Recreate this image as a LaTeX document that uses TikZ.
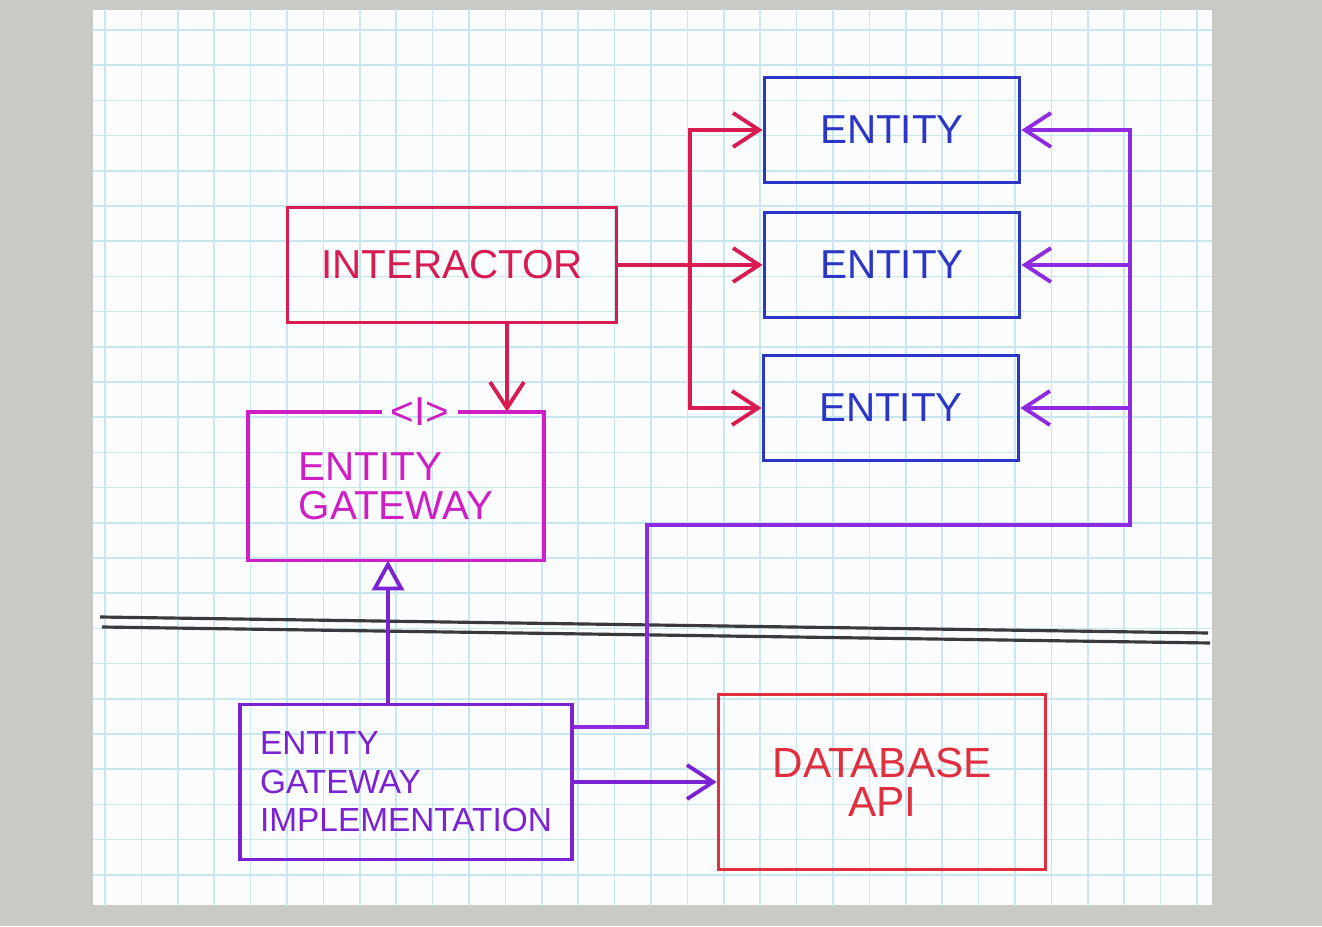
\documentclass[tikz,border=0pt]{standalone}
\usepackage{fontspec}
\setmainfont{Liberation Sans}
\usetikzlibrary{arrows.meta,calc,positioning}
\definecolor{Desk}{HTML}{C9C9C5}
\definecolor{Paper}{HTML}{FBFCFD}
\definecolor{Grid}{HTML}{C8E7EE}
\definecolor{Crimson}{HTML}{D81C52}
\definecolor{Ink}{HTML}{2B36C6}
\definecolor{Magenta}{HTML}{CF1FC4}
\definecolor{Violet}{HTML}{7B23D3}
\definecolor{Plum}{HTML}{8E2BE0}
\definecolor{Brick}{HTML}{E0303F}
\definecolor{Pencil}{HTML}{3A3A3E}

\begin{document}
\begin{tikzpicture}[font=\fontsize{11.5}{11}\selectfont,>={Straight Barb[length=2.6mm,width=3.4mm]},line width=1.1pt,
    entitybox/.style={draw=Ink,text=Ink,minimum width=2.55cm,minimum height=1.05cm},
    redwire/.style={Crimson},
    retwire/.style={Plum}]
  % paper on the desk
  \fill[Desk] (0,0) rectangle (13.22,9.26);
  \fill[Paper] (0.93,0.21) rectangle (12.12,9.16);
  \begin{scope}
    \clip (0.93,0.21) rectangle (12.12,9.16);
    \draw[Grid,line width=.5pt,xstep=.364,ystep=.352,shift={(1.05,8.96)}] (-0.2,-8.9) grid (11.2,0.3);
  \end{scope}
  % boundary
  \draw[Pencil,line width=.9pt] (1.00,3.09) -- (12.08,2.93);
  \draw[Pencil,line width=.9pt] (1.02,2.99) -- (12.10,2.83);

  \node[draw=Crimson,text=Crimson,minimum width=3.29cm,minimum height=1.15cm] (act) at (4.52,6.61) {INTERACTOR};
  \node[entitybox] (ent1) at (8.92,7.96) {ENTITY};
  \node[entitybox] (ent2) at (8.92,6.61) {ENTITY};
  \node[entitybox] (ent3) at (8.91,5.18) {ENTITY};
  \node[text=Magenta,align=left,minimum width=2.92cm,minimum height=1.45cm] (gw) at (3.96,4.40) {ENTITY\\GATEWAY};
  \node[text=Magenta,inner sep=2pt] (iface) at ([xshift=2.4mm]gw.north) {<I>};
  \draw[Magenta] (iface.west) -| (gw.south west) -| (gw.north east) -- (iface.east);
  \node[draw=Violet,text=Violet,align=left,font=\fontsize{9.5}{11}\selectfont,minimum width=3.32cm,minimum height=1.55cm] (impl) at (4.06,1.44) {ENTITY\\GATEWAY\\IMPLEMENTATION};
  \node[draw=Brick,text=Brick,align=center,font=\fontsize{12}{11}\selectfont,minimum width=3.27cm,minimum height=1.75cm] (db) at (8.82,1.44) {DATABASE\\API};

  \coordinate (fork) at (6.90,6.61);
  \coordinate (drop) at (5.07,0);
  \coordinate (lift) at (3.88,0);
  \coordinate (bend) at (6.47,4.01);
  \coordinate (ret) at (11.30,4.01);

  \draw[redwire,->] (act) -- (ent2);
  \draw[redwire,->] (fork) |- (ent1);
  \draw[redwire,->] (fork) |- (ent3);
  \draw[redwire,->] (act.south -| drop) -- (gw.north -| drop);
  \draw[Violet,-{Triangle[open,length=3mm,width=3.2mm]}] (impl.north -| lift) -- (gw.south -| lift);
  \draw[Violet,->] (impl) -- (db);
  \draw[retwire,->] ([yshift=5.5mm]impl.east) -| (bend) -| (ret |- ent1) -- (ent1);
  \draw[retwire,->] (ret |- ent2) -- (ent2);
  \draw[retwire,->] (ret |- ent3) -- (ent3);
\end{tikzpicture}
\end{document}
